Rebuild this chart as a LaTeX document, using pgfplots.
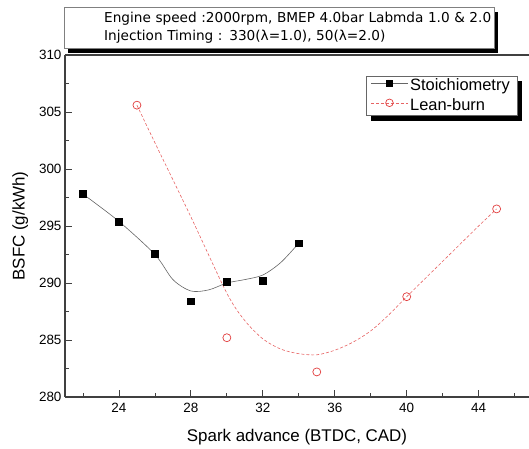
\documentclass[border=0pt]{standalone}
\usepackage{pgfplots}
\pgfplotsset{compat=1.18}
\usepackage{fontspec}
\setmainfont{Liberation Sans}
\newfontfamily\titlefont{DejaVu Sans}
\usetikzlibrary{shadows, backgrounds}

\definecolor{leanred}{RGB}{225,60,60}

\begin{document}
\begin{tikzpicture}
\begin{axis}[
  scale only axis, width=464bp, height=342bp,
  xmin=21, xmax=46.8, ymin=280, ymax=310,
  axis x line*=box, axis y line*=left,
  xtick={24,28,...,44}, minor xtick={22,26,...,46},
  ytick={280,285,...,310}, minor ytick={282.5,287.5,...,307.5},
  xtick pos=left, ytick pos=left,
  tick align=inside,
  major tick length=7bp, minor tick length=4bp,
  tick style={black!75, line width=0.8bp},
  axis line style={black!75, line width=1.2bp},
  ticklabel style={font=\fontsize{13.5}{14}\selectfont},
  xticklabel style={yshift=-3bp},
  /pgf/number format/assume math mode=true,
  xlabel={Spark advance (BTDC, CAD)}, ylabel={BSFC (g/kWh)},
  label style={font=\fontsize{17}{18}\selectfont},
  xlabel style={yshift=-9bp},
  ylabel style={yshift=4bp},
  legend style={at={(0.974,0.939)}, anchor=north east, draw=black!60,
    fill=white, font=\fontsize{16.5}{18}\selectfont, name=leg,
    inner xsep=5bp, inner ysep=1bp, row sep=2.5bp},
  legend cell align=left,
  legend image code/.code={
    \draw[mark repeat=2, mark phase=2] plot coordinates {(0cm,0.1cm) (0.65cm,0.1cm) (1.3cm,0.1cm)};},
]
% fitted curves
\addplot[forget plot, gray!80!black, line width=0.6bp, smooth, tension=0.5] coordinates {
  (22,297.8) (24,295.4) (26,292.5) (27,290.3) (28,289.3) (29,289.4) (30,290.0)
  (31,290.3) (32,290.7) (33,291.8) (34,293.5)};
\addplot[forget plot, leanred!80, line width=0.6bp, densely dashed, smooth, tension=0.5] coordinates {
  (25,305.6) (26,302.3) (28,295.8) (30,289.1) (31,286.7) (32,285.1) (33,284.2)
  (34,283.8) (35,283.7) (36,284.1) (37,284.8) (38,285.8) (39,287.2) (40,288.8)
  (42,291.9) (44,295.0) (45,296.5)};
% measured points
\addplot[forget plot, only marks, mark=square*, mark size=3.4bp, black] coordinates {
  (22,297.8) (24,295.4) (26,292.6) (28,288.4) (30,290.1) (32,290.2) (34,293.5)};
\addplot[forget plot, only marks, mark=o, mark size=4bp, leanred, line width=0.7bp] coordinates {
  (25,305.6) (30,285.2) (35,282.2) (40,288.8) (45,296.5)};
\addlegendimage{gray!80!black, line width=0.6bp, mark=square*, mark size=3bp, mark options={solid, fill=black, draw=black}}
\addlegendentry{Stoichiometry}
\addlegendimage{leanred!80, line width=0.6bp, densely dashed, mark=o, mark size=3.8bp, mark options={solid, draw=leanred, fill=white, line width=0.7bp}}
\addlegendentry{Lean-burn}
\end{axis}
\begin{pgfonlayer}{background}
  \fill[black] ([shift={(5bp,-5bp)}]leg.south west) rectangle ([shift={(5bp,-5bp)}]leg.north east);
\end{pgfonlayer}
\node[anchor=south west, draw=black!50, fill=white, inner sep=0pt,
  minimum width=430bp, minimum height=41bp, text width=430bp, align=left,
  font=\titlefont\fontsize{13.7}{18}\selectfont,
  drop shadow={shadow xshift=4bp, shadow yshift=-5bp, fill=black, opacity=1}]
  at ([shift={(-1bp,7bp)}]current axis.north west)
  {\hspace*{40bp}Engine speed :2000rpm, BMEP 4.0bar Labmda 1.0 \& 2.0\\
   \hspace*{40bp}Injection Timing : 330(λ=1.0), 50(λ=2.0)};
\pgfresetboundingbox
\path ([shift={(-65bp,-52bp)}]current axis.south west) rectangle ([shift={(0bp,55bp)}]current axis.north east);
\end{tikzpicture}
\end{document}
